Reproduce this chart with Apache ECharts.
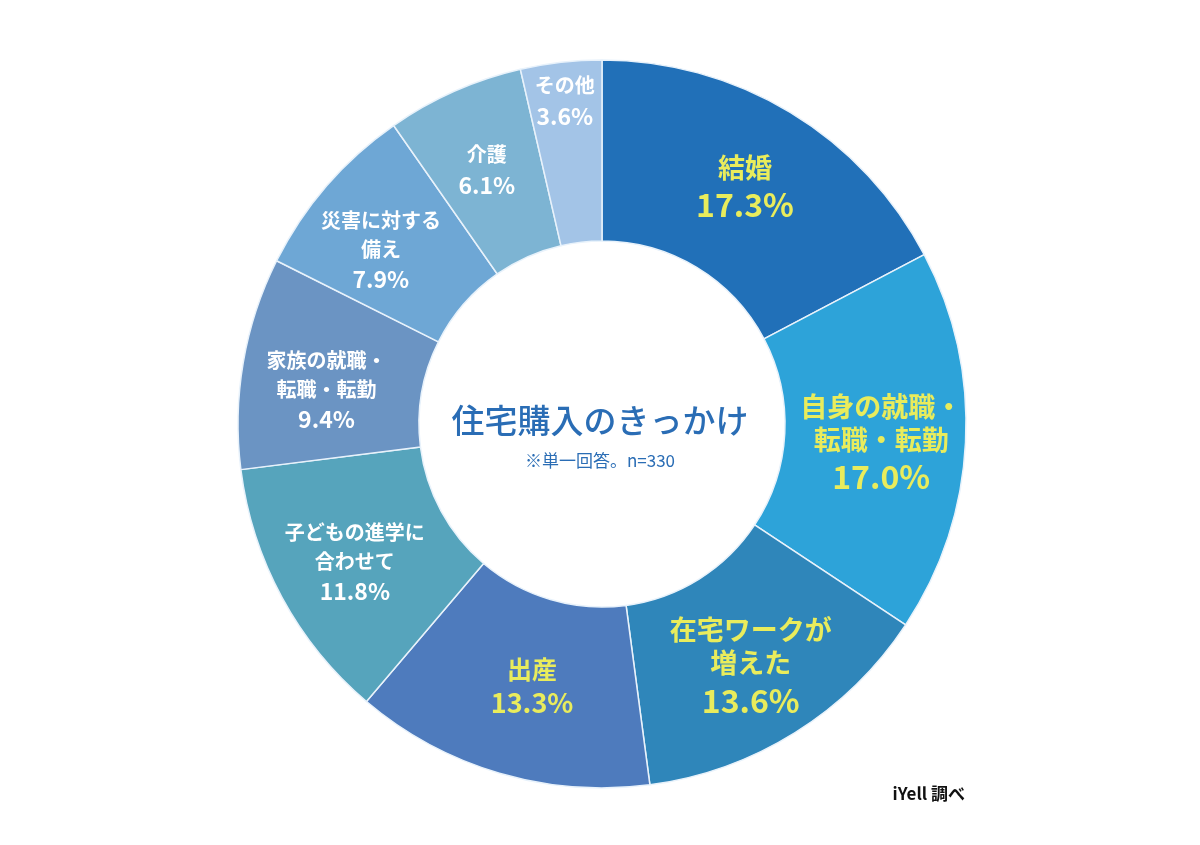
<!DOCTYPE html>
<html>
<head>
<meta charset="utf-8">
<script src="https://cdn.jsdelivr.net/npm/echarts@6/dist/echarts.min.js"></script>
<style>
html,body{margin:0;padding:0;background:#fff;}
#chart{width:1200px;height:845px;}
</style>
</head>
<body>
<div id="chart"></div>
<script>
const categories = ['結婚', '自身の就職・\n転職・転勤', '在宅ワークが\n増えた', '出産', '子どもの進学に\n合わせて', '家族の就職・\n転職・転勤', '災害に対する\n備え', '介護', 'その他'];
const values = [17.3, 17.0, 13.6, 13.3, 11.8, 9.4, 7.9, 6.1, 3.6];
const colors = ['#2170b8', '#2da3d9', '#2f86ba', '#4e7bbd', '#56a4bc', '#6b94c3', '#6ea7d5', '#7db4d3', '#a3c4e7'];
// label style group: 'big' yellow, 'mid' yellow, 'small' white
const labelStyle = ['big', 'big', 'big', 'mid', 'small', 'small', 'small', 'small', 'small'];
// fine label nudges [dx, dy]
const labelNudge = [[0, 1], [3, 6], [2, 9], [8, -3], [-4, 7], [-3, 13], [-12, 7], [-3, -1], [-6, -48]];

const FONT = '"Noto Sans CJK JP", "Noto Sans", sans-serif';
const rich = {
  bn: {fontFamily: FONT, fontSize: 27, fontWeight: 'bold', color: '#e9ec5c', lineHeight: 33, align: 'center'},
  bv: {fontFamily: FONT, fontSize: 32, fontWeight: 'bold', color: '#e9ec5c', lineHeight: 42, align: 'center'},
  mn: {fontFamily: FONT, fontSize: 25, fontWeight: 'bold', color: '#e9ec5c', lineHeight: 32, align: 'center'},
  mv: {fontFamily: FONT, fontSize: 27, fontWeight: 'bold', color: '#e9ec5c', lineHeight: 34, align: 'center'},
  sn: {fontFamily: FONT, fontSize: 20, fontWeight: 'bold', color: '#ffffff', lineHeight: 29, align: 'center'},
  sv: {fontFamily: FONT, fontSize: 23, fontWeight: 'bold', color: '#ffffff', lineHeight: 31, align: 'center'}
};
const pfx = {big: ['bn', 'bv'], mid: ['mn', 'mv'], small: ['sn', 'sv']};

const data = categories.map((c, i) => {
  const [n, v] = pfx[labelStyle[i]];
  const nameLines = c.split('\n').map(l => '{' + n + '|' + l + '}').join('\n');
  return {
    name: c,
    value: values[i],
    itemStyle: {color: colors[i]},
    label: {formatter: nameLines + '\n{' + v + '|' + values[i].toFixed(1) + '%}'}
  };
});

const chart = echarts.init(document.getElementById('chart'));
chart.setOption({
  backgroundColor: '#ffffff',
  animation: false,
  graphic: [
    {type: 'text', left: 'center', top: 404, style: {text: '住宅購入のきっかけ', font: '500 33px ' + FONT, fill: '#2a6db5', textAlign: 'center'}},
    {type: 'text', left: 'center', top: 452, style: {text: '※単一回答。n=330', font: '17px ' + FONT, fill: '#2a6db5', textAlign: 'center'}},
    {type: 'text', right: 235, top: 785, style: {text: 'iYell 調べ', font: 'bold 17px ' + FONT, fill: '#111111'}}
  ],
  series: [{
    type: 'pie',
    center: [602, 424],
    radius: [183, 364],
    startAngle: 90,
    clockwise: true,
    avoidLabelOverlap: false,
    itemStyle: {borderColor: '#e8f2fb', borderWidth: 1.5},
    label: {show: true, position: 'inside', rich: rich},
    labelLine: {show: false},
    emphasis: {disabled: true},
    labelLayout: function (p) {
      const d = labelNudge[p.dataIndex];
      return {dx: d[0], dy: d[1]};
    },
    data: data
  }]
});
</script>
</body>
</html>
